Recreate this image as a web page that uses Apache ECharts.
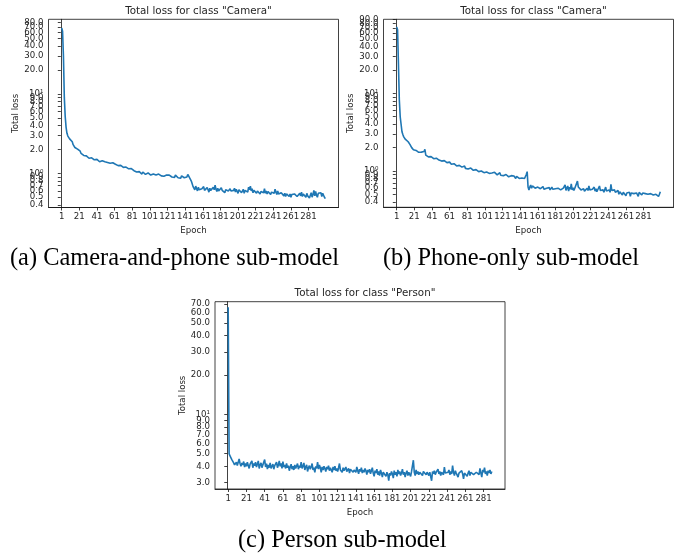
<!DOCTYPE html>
<html>
<head>
<meta charset="utf-8">
<title>Total loss per sub-model</title>
<script src="https://cdn.jsdelivr.net/npm/echarts@6/dist/echarts.min.js"></script>
<style>
  html, body { margin: 0; padding: 0; background: #fff; }
  #chart { width: 681px; height: 554px; }
</style>
</head>
<body>
<div id="chart"></div>
<script>
// tick labels
const epochTicks = [1, 21, 41, 61, 81, 101, 121, 141, 161, 181, 201, 221, 241, 261, 281];
const cameraLossTicks = [0.4, 0.5, 0.6, 0.7, 0.8, 0.9, 1, 2, 3, 4, 5, 6, 7, 8, 9, 10, 20, 30, 40, 50, 60, 70, 80, 90];
const personLossTicks = [3, 4, 5, 6, 7, 8, 9, 10, 20, 30, 40, 50, 60, 70];

const captions = ['(a) Camera-and-phone sub-model', '(b) Phone-only sub-model', '(c) Person sub-model'];

// (a) Camera-and-phone sub-model, total loss per epoch
const lossCameraPhone = [
  68, 62, 30, 9.0, 5.2, 3.8, 3.2, 2.95, 2.8, 2.72, 2.7, 2.65, 2.5, 2.3, 2.2, 2.12, 2.08, 2.05, 2.02, 1.98,
  2.0, 1.9, 1.78, 1.72, 1.8, 1.68, 1.7, 1.62, 1.66, 1.58, 1.6, 1.55, 1.62, 1.52, 1.57, 1.5, 1.55, 1.48, 1.53, 1.47,
  1.5, 1.42, 1.46, 1.4, 1.48, 1.38, 1.44, 1.36, 1.45, 1.4, 1.35, 1.42, 1.37, 1.33, 1.4, 1.34, 1.38, 1.3, 1.36, 1.33,
  1.38, 1.3, 1.27, 1.32, 1.25, 1.28, 1.22, 1.26, 1.2, 1.24, 1.19, 1.22, 1.17, 1.2, 1.16, 1.18, 1.14, 1.17, 1.12, 1.15,
  1.1, 1.13, 1.08, 1.06, 1.1, 1.04, 1.07, 1.02, 1.05, 1.0, 1.03, 0.98, 1.04, 0.99, 1.02, 0.97, 1.0, 0.96, 1.01, 0.98,
  1.02, 0.95, 0.99, 0.94, 0.98, 0.93, 1.0, 0.95, 0.97, 0.92, 0.98, 0.94, 1.01, 0.93, 0.96, 0.95, 0.92, 0.97, 0.93, 0.95,
  0.98, 0.92, 0.95, 0.91, 0.96, 0.9, 0.94, 0.92, 0.89, 0.95, 0.9, 0.93, 0.88, 0.92, 0.9, 0.87, 0.93, 0.89, 0.91, 0.88,
  0.92, 0.87, 0.9, 0.97, 0.99, 0.88, 0.84, 0.8, 0.74, 0.68,
  0.66, 0.62, 0.69, 0.64, 0.6, 0.67, 0.62, 0.65, 0.59, 0.64, 0.61, 0.68, 0.61, 0.63, 0.59, 0.66, 0.62, 0.58, 0.65, 0.61,
  0.64, 0.59, 0.67, 0.62, 0.71, 0.63, 0.59, 0.65, 0.6, 0.63, 0.58, 0.66, 0.61, 0.6, 0.64, 0.57, 0.62, 0.6, 0.65, 0.6,
  0.58, 0.64, 0.6, 0.62, 0.57, 0.61, 0.65, 0.58, 0.63, 0.6, 0.56, 0.62, 0.59, 0.64, 0.57, 0.6, 0.63, 0.56, 0.61, 0.58,
  0.61, 0.58, 0.67, 0.62, 0.69, 0.6, 0.64, 0.57, 0.61, 0.59, 0.63, 0.56, 0.6, 0.58, 0.62, 0.55, 0.59, 0.57, 0.61, 0.57,
  0.64, 0.56, 0.6, 0.55, 0.59, 0.57, 0.62, 0.54, 0.58, 0.56, 0.61, 0.56, 0.63, 0.58, 0.54, 0.6, 0.55, 0.58, 0.53, 0.57,
  0.55, 0.59, 0.52, 0.56, 0.51, 0.55, 0.53, 0.58, 0.51, 0.55, 0.5, 0.54, 0.57, 0.52, 0.55, 0.52, 0.57, 0.51, 0.54, 0.52,
  0.56, 0.52, 0.58, 0.51, 0.55, 0.53, 0.54, 0.5, 0.56, 0.52, 0.54, 0.49, 0.53, 0.57, 0.5, 0.54, 0.61, 0.52, 0.59, 0.53,
  0.5, 0.56, 0.59, 0.54, 0.57, 0.51, 0.56, 0.53, 0.5, 0.48
];

// (b) Phone-only sub-model
const lossPhoneOnly = [
  72, 66, 24, 8.2, 5.0, 4.0, 3.2, 2.95, 2.75, 2.6, 2.55, 2.5, 2.42, 2.38, 2.35, 2.2, 2.1, 2.0, 1.92, 1.88,
  1.86, 1.8, 1.84, 1.76, 1.8, 1.74, 1.77, 1.72, 1.75, 1.7, 1.73, 1.78, 1.9, 1.6, 1.55, 1.58, 1.52, 1.56, 1.5, 1.53,
  1.46, 1.5, 1.44, 1.48, 1.42, 1.46, 1.4, 1.44, 1.38, 1.42, 1.36, 1.34, 1.39, 1.32, 1.36, 1.3, 1.34, 1.28, 1.31, 1.26,
  1.3, 1.25, 1.22, 1.27, 1.2, 1.24, 1.18, 1.22, 1.16, 1.2, 1.13, 1.18, 1.14, 1.2, 1.12, 1.15, 1.1, 1.16, 1.08, 1.13,
  1.1, 1.06, 1.12, 1.05, 1.09, 1.03, 1.08, 1.02, 1.06, 1.0, 1.04, 0.99, 1.03, 0.98, 1.01, 0.96, 1.0, 0.97, 0.99, 0.95,
  0.98, 0.94, 0.97, 0.92, 0.96, 0.93, 0.95, 0.91, 0.94, 0.9, 0.93, 0.96, 0.91, 0.94, 0.89, 0.93, 0.9, 0.95, 0.88, 0.92,
  0.9, 0.87, 0.92, 0.86, 0.9, 0.85, 0.89, 0.84, 0.88, 0.83, 0.87, 0.85, 0.82, 0.86, 0.83, 0.8, 0.85, 0.81, 0.84, 0.8,
  0.82, 0.79, 0.81, 0.8, 0.78, 0.8, 0.82, 0.9, 0.98, 0.62,
  0.57, 0.62, 0.66, 0.6, 0.64, 0.61, 0.65, 0.6, 0.63, 0.59, 0.62, 0.6, 0.64, 0.59, 0.61, 0.6, 0.63, 0.58, 0.61, 0.59,
  0.6, 0.62, 0.58, 0.61, 0.57, 0.6, 0.62, 0.58, 0.6, 0.56, 0.59, 0.61, 0.57, 0.6, 0.58, 0.62, 0.57, 0.59, 0.56, 0.6,
  0.58, 0.66, 0.56, 0.6, 0.64, 0.55, 0.62, 0.58, 0.68, 0.57, 0.61, 0.56, 0.6, 0.63, 0.58, 0.74, 0.62, 0.59, 0.61, 0.57,
  0.6, 0.56, 0.59, 0.55, 0.58, 0.54, 0.6, 0.56, 0.64, 0.57, 0.59, 0.55, 0.58, 0.56, 0.62, 0.55, 0.59, 0.54, 0.57, 0.55,
  0.64, 0.56, 0.59, 0.54, 0.57, 0.53, 0.56, 0.62, 0.55, 0.58, 0.54, 0.57, 0.53, 0.67, 0.56, 0.58, 0.54, 0.57, 0.53, 0.55,
  0.52, 0.56, 0.5, 0.54, 0.51, 0.55, 0.49, 0.53, 0.5, 0.54, 0.48, 0.52, 0.55, 0.5, 0.53, 0.47, 0.52, 0.5, 0.55, 0.51,
  0.53, 0.49, 0.52, 0.5, 0.47, 0.53, 0.51, 0.55, 0.49, 0.52, 0.5, 0.54, 0.51, 0.49, 0.52, 0.5, 0.53, 0.49, 0.51, 0.5,
  0.52, 0.49, 0.51, 0.48, 0.5, 0.52, 0.49, 0.47, 0.5, 0.54
];

// (c) Person sub-model
const lossPerson = [
  66, 5.0, 4.8, 4.75, 4.5, 4.6, 4.25, 4.1, 4.2, 4.3, 4.05, 4.15, 4.55, 4.2, 4.0, 4.25, 4.1, 4.35, 3.95, 4.2,
  4.0, 4.3, 4.05, 3.85, 4.15, 4.1, 4.4, 3.9, 4.2, 4.05, 4.3, 3.95, 4.15, 4.4, 3.85, 4.1, 4.25, 3.9, 4.1, 4.0,
  4.5, 3.95, 4.2, 3.8, 4.1, 3.9, 4.25, 3.85, 4.0, 4.15, 3.8, 4.05, 3.95, 4.3, 3.9, 4.1, 4.4, 4.0, 4.2, 3.85,
  4.35, 3.95, 4.1, 3.85, 4.2, 3.9, 4.05, 3.7, 3.95, 4.15, 3.8, 4.0, 3.75, 4.1, 3.85, 3.95, 4.2, 3.8, 4.05, 3.9,
  4.3, 3.85, 4.0, 4.25, 3.75, 3.95, 4.1, 3.65, 3.9, 4.05, 3.8, 3.95, 4.2, 3.75, 3.9, 3.6, 4.0, 3.85, 4.3, 3.8,
  4.1, 3.9, 3.6, 3.95, 3.75, 4.0, 3.85, 3.65, 3.95, 3.8, 4.05, 3.7, 3.9, 3.8, 3.6, 3.95, 3.75, 4.0, 3.7, 3.85,
  3.65, 3.9, 4.2, 3.75, 3.85, 3.6, 3.9, 3.7, 3.8, 3.95, 3.65, 3.75, 3.85, 3.55, 3.8, 3.7, 3.9, 3.6, 3.75, 3.85,
  3.6, 3.95, 3.7, 3.5, 3.8, 3.65, 3.9, 3.55, 3.75, 3.6, 3.85, 3.7, 3.45, 3.75, 3.6, 3.8, 3.5, 3.7, 3.9, 3.55,
  3.35, 3.7, 3.55, 3.8, 3.45, 3.65, 3.4, 3.75, 3.55, 3.3, 3.6, 3.5, 3.7, 3.35, 3.6, 3.45, 3.1, 3.55, 3.4, 3.65,
  3.5, 3.25, 3.7, 3.45, 3.6, 3.35, 3.75, 3.5, 3.65, 3.4, 3.55, 3.8, 3.45, 3.6, 3.3, 3.55, 3.7, 3.4, 3.6, 3.5,
  3.35, 3.65, 3.55, 4.45, 3.6, 3.4, 3.75, 3.5, 3.65, 3.45, 3.6, 3.7, 3.5, 3.4, 3.65, 3.55, 3.75, 3.45, 3.6, 3.5,
  3.4, 3.6, 3.55, 3.1, 3.65, 3.5, 3.7, 3.45, 3.6, 3.55, 3.8, 3.5, 3.65, 3.4, 3.6, 3.7, 3.45, 3.95, 3.55, 3.65,
  3.5, 3.6, 3.75, 3.45, 3.65, 3.5, 4.05, 3.6, 3.4, 3.7, 3.55, 3.65, 3.3, 3.55, 3.6, 3.45, 3.7, 3.5, 3.2, 3.55,
  3.45, 3.6, 3.35, 3.55, 3.7, 3.4, 3.6, 3.5, 3.65, 3.45, 3.55, 3.35, 3.6, 3.5, 3.7, 3.45, 3.85, 3.55, 3.3, 3.75,
  3.6, 3.9, 3.5, 3.65, 3.4, 3.7, 3.55, 3.75, 3.5, 3.65
];

const FONT = 'DejaVu Sans';
const TEXT = '#262626';

// matplotlib log labels: 10⁰ / 10¹ for decades, one decimal otherwise
const lossLabel = (ticks) => (v) => {
  const r = Math.round(v * 100) / 100;
  if (ticks.indexOf(r) < 0) return '';
  if (r === 1) return '10⁰';
  if (r === 10) return '10¹';
  return r.toFixed(1);
};

const panels = [
  { title: 'Total loss for class "Camera"', data: lossCameraPhone, ticks: cameraLossTicks,
    grid: { left: 48.5, top: 19.3, width: 290, height: 188.2 }, x: [-13.95, 314.95], y: [0.371, 87.5] },
  { title: 'Total loss for class "Camera"', data: lossPhoneOnly, ticks: cameraLossTicks,
    grid: { left: 383.5, top: 19.3, width: 290, height: 188 }, x: [-13.95, 314.95], y: [0.34, 90.2] },
  { title: 'Total loss for class "Person"', data: lossPerson, ticks: personLossTicks,
    grid: { left: 215, top: 301.7, width: 290, height: 187.3 }, x: [-13.45, 304.45], y: [2.68, 72.8] }
];

const option = {
  animation: false,
  backgroundColor: '#fff',
  title: panels.map((p) => ({
    text: p.title,
    left: p.grid.left + p.grid.width / 2,
    top: p.grid.top - 18,
    textAlign: 'center',
    textStyle: { fontFamily: FONT, fontSize: 10.3, fontWeight: 'normal', color: TEXT }
  })),
  grid: panels.map((p) => ({ ...p.grid, show: true, borderColor: '#111', borderWidth: 0.8, backgroundColor: '#fff' })),
  xAxis: panels.map((p, i) => ({
    type: 'value',
    gridIndex: i,
    min: p.x[0],
    max: p.x[1],
    name: 'Epoch',
    nameLocation: 'middle',
    nameGap: 19,
    nameTextStyle: { fontFamily: FONT, fontSize: 8.6, color: TEXT },
    axisLine: { lineStyle: { color: '#111', width: 0.8 } },
    axisTick: { length: 3, lineStyle: { color: '#111', width: 0.8 }, customValues: epochTicks },
    axisLabel: { fontFamily: FONT, fontSize: 8.6, color: TEXT, margin: 5, showMinLabel: true, showMaxLabel: true, customValues: epochTicks },
    splitLine: { show: false }
  })),
  yAxis: panels.map((p, i) => ({
    type: 'log',
    logBase: 10,
    gridIndex: i,
    min: p.y[0],
    max: p.y[1],
    name: 'Total loss',
    nameLocation: 'middle',
    nameGap: 28,
    nameTextStyle: { fontFamily: FONT, fontSize: 8.6, color: TEXT },
    axisLine: { show: true, lineStyle: { color: '#111', width: 0.8 } },
    axisTick: { show: true, length: 3, lineStyle: { color: '#111', width: 0.8 }, customValues: p.ticks },
    axisLabel: {
      fontFamily: FONT, fontSize: 8.6, color: TEXT, margin: 5, hideOverlap: false,
      formatter: lossLabel(p.ticks),
      // blank labels at both ends so that the real end labels are not dropped
      customValues: [p.y[0] * 1.003].concat(p.ticks, [p.y[1] * 0.997])
    },
    splitLine: { show: false }
  })),
  series: panels.map((p, i) => ({
    type: 'line',
    xAxisIndex: i,
    yAxisIndex: i,
    showSymbol: false,
    lineStyle: { color: '#1f77b4', width: 1.6 },
    itemStyle: { color: '#1f77b4' },
    data: p.data.map((v, k) => [k + 1, v])
  })),
  graphic: [
    { type: 'text', left: 10, top: 247, style: { text: captions[0], font: '24.4px "Liberation Serif"', fill: '#000' } },
    { type: 'text', left: 383, top: 247, style: { text: captions[1], font: '24.4px "Liberation Serif"', fill: '#000' } },
    { type: 'text', left: 238, top: 529, style: { text: captions[2], font: '24.4px "Liberation Serif"', fill: '#000' } }
  ]
};

const chart = echarts.init(document.getElementById('chart'));
chart.setOption(option);
</script>
</body>
</html>
